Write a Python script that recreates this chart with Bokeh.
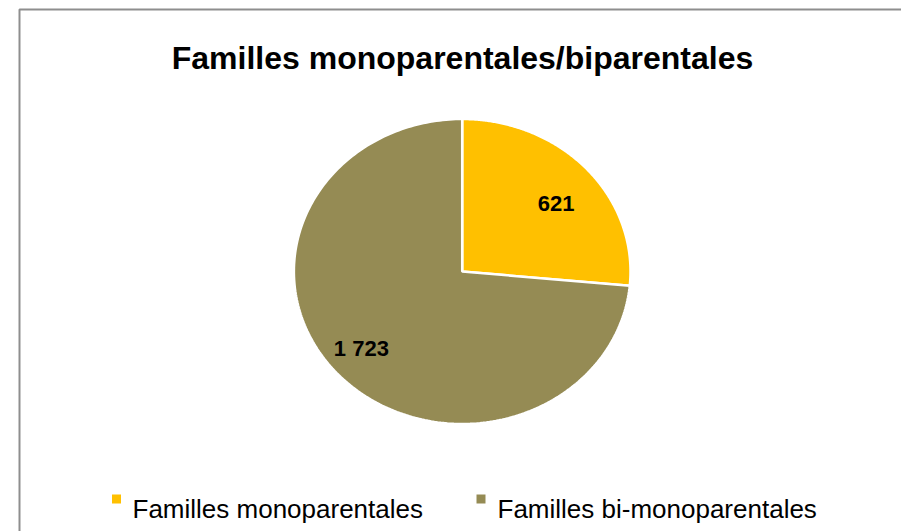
import numpy as np
from bokeh.plotting import figure
from bokeh.models import Range1d
from bokeh.core.properties import value
from bokeh.embed import file_html
from bokeh.resources import INLINE

# ---- data ----
title = "Familles monoparentales/biparentales"
categories = ["Familles monoparentales", "Familles bi-monoparentales"]
values = [621, 1723]
labels = ["621", "1 723"]
colors = ["#FFC000", "#958B54"]

# ---- layout (screen pixel coordinates) ----
W, H = 901, 531
FONT = "Liberation Sans"
p = figure(width=W, height=H, output_backend="svg", toolbar_location=None,
           x_range=Range1d(0, W), y_range=Range1d(H, 0),
           x_axis_type=None, y_axis_type=None, min_border=0, tools="")
p.outline_line_color = None
p.background_fill_color = "white"
p.border_fill_color = "white"

# chart frame (left and top edges visible, corner at 19,9)
p.line(x=[19, 19, W + 5], y=[H + 5, 9, 9], line_color="#8E8E8E", line_width=2)

# title
p.text(x=[462], y=[57], text=[title], text_font=value(FONT), text_font_style="bold",
       text_font_size="32px", text_align="center", text_baseline="alphabetic",
       text_color="black")

# pie (elliptical, clockwise from top)
cx, cy, rx, ry = 461.7, 271.0, 168.3, 152.5
vals = np.array(values, dtype=float)
frac = vals / vals.sum()
ends = np.cumsum(frac) * 2 * np.pi
starts = ends - frac * 2 * np.pi
xs, ys = [], []
for s, e in zip(starts, ends):
    t = np.linspace(s, e, 240)
    xs.append([cx] + list(cx + rx * np.sin(t)))
    ys.append([cy] + list(cy - ry * np.cos(t)))
p.patches(xs=xs, ys=ys, fill_color=colors, line_color="white", line_width=2.5)

# data labels along mid-angle
mids = (starts + ends) / 2
fx = np.array([0.755, 0.81])
fy = np.array([0.74, 0.67])
lx = cx + rx * fx * np.sin(mids)
ly = cy - ry * fy * np.cos(mids) + 8
p.text(x=lx, y=ly, text=labels, text_font=value(FONT), text_font_style="bold",
       text_font_size="22px", text_align="center", text_baseline="alphabetic",
       text_color="black")

# legend
leg_sq_x = [116, 480.5]
leg_tx_x = [132, 497]
p.scatter(x=leg_sq_x, y=[498.5] * 2, marker="square", size=9, fill_color=colors,
          line_color=None)
p.text(x=leg_tx_x, y=[508] * 2, text=categories, text_font=value(FONT),
       text_font_size="26px", text_align="left", text_baseline="alphabetic",
       text_color="black")

open("out.html", "w").write(file_html(p, INLINE))
